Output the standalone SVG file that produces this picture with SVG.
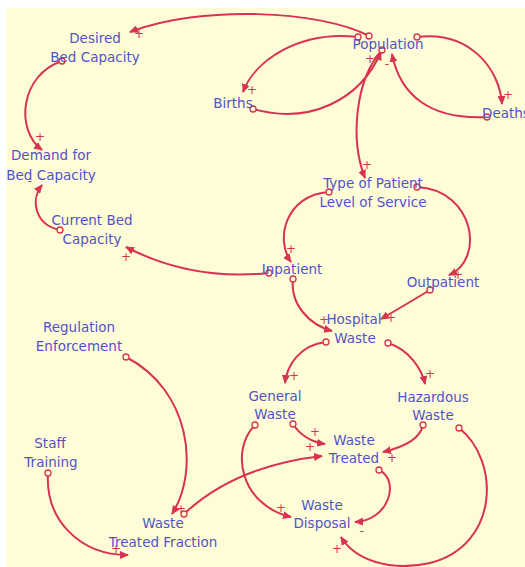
<svg xmlns="http://www.w3.org/2000/svg" width="525" height="567" viewBox="0 0 525 567">
<style>
.lbl{font-family:"DejaVu Sans","Liberation Sans",sans-serif;font-size:13.5px;fill:#5252c8;text-anchor:middle}
.lk{fill:none;stroke:#d83350;stroke-width:2;marker-end:url(#ah)}
.o{fill:#fffdd8;stroke:#d83350;stroke-width:1.3}
.sg{font-family:"DejaVu Sans","Liberation Sans",sans-serif;font-size:12px;fill:#d83350;text-anchor:middle}
</style>
<defs>
<marker id="ah" markerWidth="10" markerHeight="8" refX="8" refY="4" orient="auto" markerUnits="userSpaceOnUse">
<path d="M0,0 L9,4 L0,8 Z" fill="#d83350"/>
</marker>
</defs>
<rect x="0" y="0" width="525" height="567" fill="#ffffff"/>
<rect x="6" y="8" width="519" height="559" fill="#fffdd8"/>
<g id="connectors">
<path class="lk" d="M369,36 C320,10 200,5 130,32"/>
<path class="lk" d="M62,61 C20,75 15,130 42,150"/>
<path class="lk" d="M60,230 C35,225 30,200 42,185"/>
<path class="lk" d="M269,273 C220,278 170,270 126,247"/>
<path class="lk" d="M358,37 C300,30 255,60 243,92"/>
<path class="lk" d="M253,109 C310,125 360,100 381,52"/>
<path class="lk" d="M417,37 C470,30 500,70 502,104"/>
<path class="lk" d="M487,117 C430,120 400,95 392,54"/>
<path class="lk" d="M382,50 C355,80 350,140 365,178"/>
<path class="lk" d="M329,192 C285,195 275,240 291,262"/>
<path class="lk" d="M417,187 C475,190 485,260 449,275"/>
<path class="lk" d="M293,279 C290,305 310,325 332,331"/>
<path class="lk" d="M430,290 Q405,305 381,319"/>
<path class="lk" d="M326,342 C300,345 287,365 285,383"/>
<path class="lk" d="M388,343 C410,350 422,370 425,384"/>
<path class="lk" d="M293,424 C300,435 312,442 325,444"/>
<path class="lk" d="M423,425 C420,440 400,448 383,452"/>
<path class="lk" d="M184,514 C220,480 270,462 322,456"/>
<path class="lk" d="M255,425 C230,450 240,505 291,517"/>
<path class="lk" d="M379,470 C400,480 390,520 355,522"/>
<path class="lk" d="M459,428 C500,460 500,545 430,563 C390,572 355,560 341,537"/>
<path class="lk" d="M126,357 C190,390 200,470 172,514"/>
<path class="lk" d="M48,473 C45,520 80,555 128,555"/>
<circle class="o" cx="369" cy="36" r="3"/>
<circle class="o" cx="62" cy="61" r="3"/>
<circle class="o" cx="60" cy="230" r="3"/>
<circle class="o" cx="269" cy="273" r="3"/>
<circle class="o" cx="358" cy="37" r="3"/>
<circle class="o" cx="253" cy="109" r="3"/>
<circle class="o" cx="417" cy="37" r="3"/>
<circle class="o" cx="487" cy="117" r="3"/>
<circle class="o" cx="382" cy="50" r="3"/>
<circle class="o" cx="329" cy="192" r="3"/>
<circle class="o" cx="417" cy="187" r="3"/>
<circle class="o" cx="293" cy="279" r="3"/>
<circle class="o" cx="430" cy="290" r="3"/>
<circle class="o" cx="326" cy="342" r="3"/>
<circle class="o" cx="388" cy="343" r="3"/>
<circle class="o" cx="293" cy="424" r="3"/>
<circle class="o" cx="423" cy="425" r="3"/>
<circle class="o" cx="184" cy="514" r="3"/>
<circle class="o" cx="255" cy="425" r="3"/>
<circle class="o" cx="379" cy="470" r="3"/>
<circle class="o" cx="459" cy="428" r="3"/>
<circle class="o" cx="126" cy="357" r="3"/>
<circle class="o" cx="48" cy="473" r="3"/>
<text class="sg" x="139" y="38">+</text>
<text class="sg" x="40" y="141">+</text>
<text class="sg" x="30" y="185">-</text>
<text class="sg" x="126" y="261">+</text>
<text class="sg" x="252" y="94">+</text>
<text class="sg" x="370" y="63">+</text>
<text class="sg" x="508" y="99">+</text>
<text class="sg" x="387" y="68">-</text>
<text class="sg" x="367" y="169">+</text>
<text class="sg" x="291" y="253">+</text>
<text class="sg" x="458" y="279">+</text>
<text class="sg" x="324" y="324">+</text>
<text class="sg" x="391" y="322">+</text>
<text class="sg" x="294" y="380">+</text>
<text class="sg" x="430" y="378">+</text>
<text class="sg" x="315" y="436">+</text>
<text class="sg" x="392" y="462">+</text>
<text class="sg" x="310" y="451">+</text>
<text class="sg" x="281" y="512">+</text>
<text class="sg" x="362" y="535">-</text>
<text class="sg" x="337" y="553">+</text>
<text class="sg" x="181" y="513">+</text>
<text class="sg" x="116" y="553">+</text>
</g>
<g id="desired-bed-capacity"><text class="lbl" x="95" y="43">Desired</text><text class="lbl" x="95" y="62">Bed Capacity</text></g>
<g id="population"><text class="lbl" x="388" y="49">Population</text></g>
<g id="births"><text class="lbl" x="233" y="108">Births</text></g>
<g id="deaths"><text class="lbl" x="482" y="118" style="text-anchor:start">Deaths</text></g>
<g id="demand-for-bed-capacity"><text class="lbl" x="51" y="160">Demand for</text><text class="lbl" x="51" y="180">Bed Capacity</text></g>
<g id="current-bed-capacity"><text class="lbl" x="92" y="225">Current Bed</text><text class="lbl" x="92" y="244">Capacity</text></g>
<g id="regulation-enforcement"><text class="lbl" x="79" y="332">Regulation</text><text class="lbl" x="79" y="351">Enforcement</text></g>
<g id="type-of-patient"><text class="lbl" x="373" y="188">Type of Patient</text><text class="lbl" x="373" y="207">Level of Service</text></g>
<g id="inpatient"><text class="lbl" x="292" y="274">Inpatient</text></g>
<g id="outpatient"><text class="lbl" x="443" y="287">Outpatient</text></g>
<g id="hospital-waste"><text class="lbl" x="354" y="324">Hospital</text><text class="lbl" x="355" y="343">Waste</text></g>
<g id="general-waste"><text class="lbl" x="275" y="401">General</text><text class="lbl" x="275" y="419">Waste</text></g>
<g id="hazardous-waste"><text class="lbl" x="433" y="402">Hazardous</text><text class="lbl" x="433" y="420">Waste</text></g>
<g id="waste-treated"><text class="lbl" x="354" y="445">Waste</text><text class="lbl" x="354" y="463">Treated</text></g>
<g id="waste-disposal"><text class="lbl" x="322" y="510">Waste</text><text class="lbl" x="322" y="528">Disposal</text></g>
<g id="staff-training"><text class="lbl" x="50" y="448">Staff</text><text class="lbl" x="51" y="467">Training</text></g>
<g id="waste-treated-fraction"><text class="lbl" x="163" y="528">Waste</text><text class="lbl" x="163" y="547">Treated Fraction</text></g>
</svg>
